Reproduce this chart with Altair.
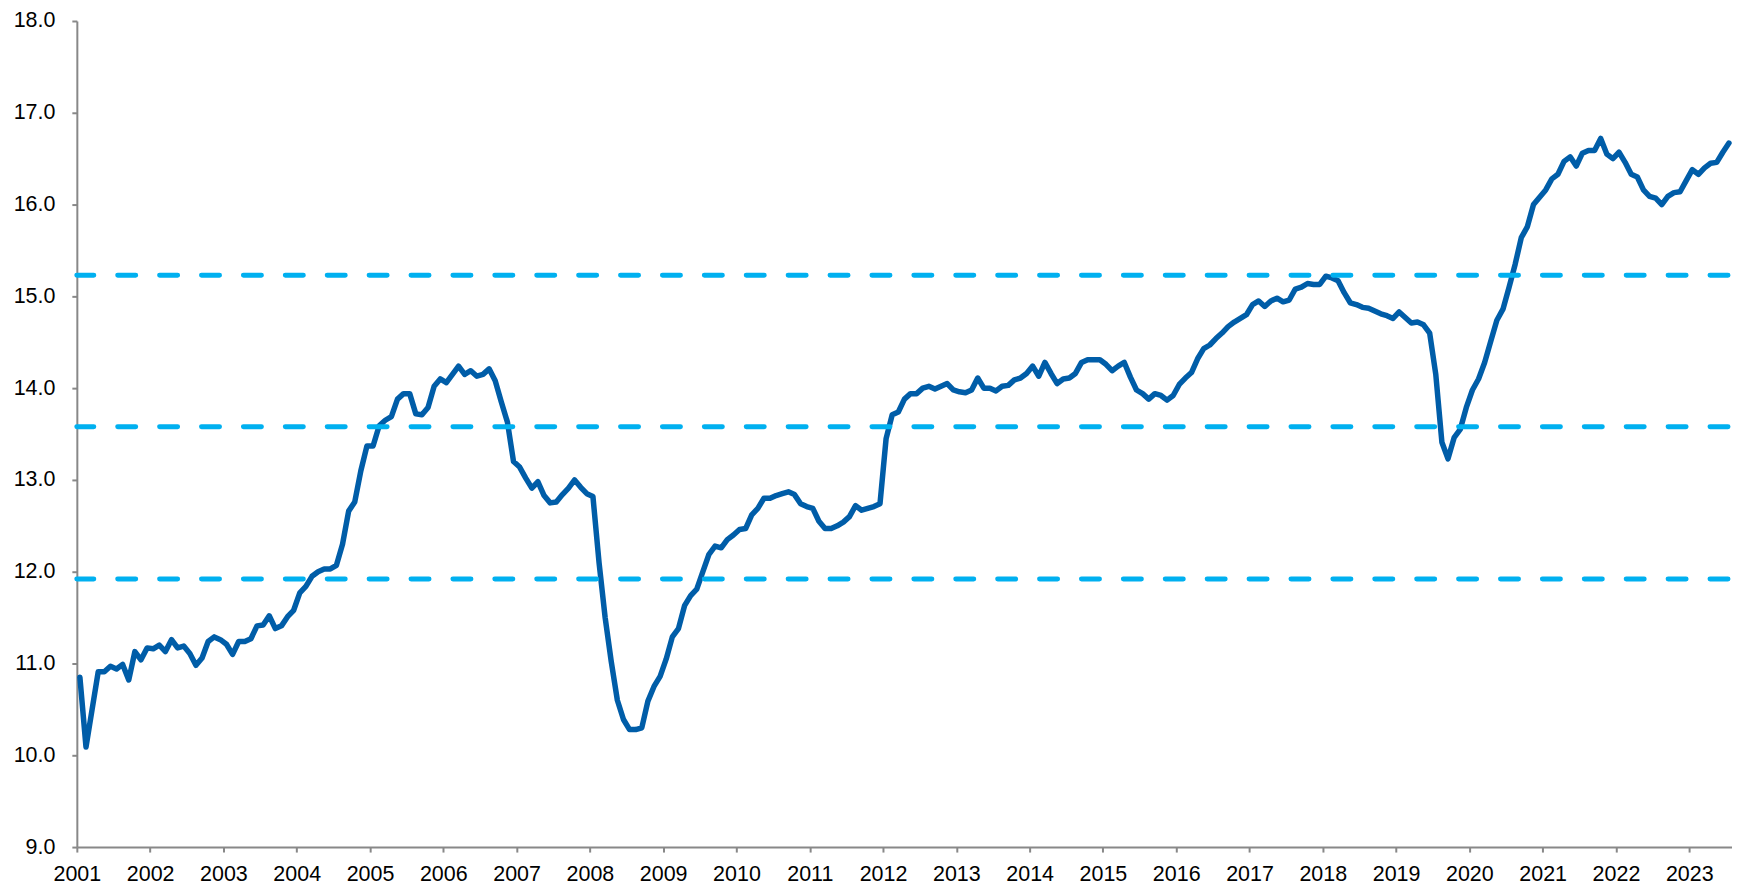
import altair as alt
import pandas as pd

# Monthly values, Jan 2001 - Jul 2023
v2001 = [10.85, 10.09, 10.50, 10.91, 10.91, 10.97, 10.94, 10.99, 10.82, 11.13, 11.04, 11.17]
v2002 = [11.16, 11.20, 11.13, 11.26, 11.17, 11.19, 11.11, 10.98, 11.06, 11.24, 11.29, 11.26]
v2003 = [11.21, 11.10, 11.24, 11.24, 11.27, 11.41, 11.42, 11.52, 11.38, 11.41, 11.51, 11.58]
v2004 = [11.77, 11.84, 11.95, 12.00, 12.03, 12.03, 12.07, 12.30, 12.66, 12.76, 13.10, 13.37]
v2005 = [13.37, 13.59, 13.65, 13.69, 13.88, 13.94, 13.94, 13.72, 13.71, 13.79, 14.02, 14.10]
v2006 = [14.06, 14.15, 14.24, 14.15, 14.19, 14.13, 14.15, 14.21, 14.08, 13.85, 13.63, 13.20]
v2007 = [13.14, 13.02, 12.91, 12.98, 12.83, 12.75, 12.76, 12.84, 12.91, 13.00, 12.92, 12.85]
v2008 = [12.82, 12.10, 11.50, 11.02, 10.60, 10.39, 10.28, 10.28, 10.30, 10.59, 10.75, 10.86]
v2009 = [11.05, 11.29, 11.38, 11.63, 11.74, 11.81, 12.00, 12.19, 12.28, 12.26, 12.35, 12.40]
v2010 = [12.46, 12.47, 12.62, 12.69, 12.80, 12.80, 12.83, 12.85, 12.87, 12.84, 12.74, 12.71]
v2011 = [12.69, 12.55, 12.47, 12.47, 12.50, 12.54, 12.60, 12.72, 12.67, 12.69, 12.71, 12.74]
v2012 = [13.45, 13.71, 13.74, 13.88, 13.94, 13.94, 14.00, 14.02, 13.99, 14.02, 14.05, 13.98]
v2013 = [13.96, 13.95, 13.98, 14.11, 14.00, 14.00, 13.97, 14.02, 14.03, 14.09, 14.11, 14.16]
v2014 = [14.24, 14.13, 14.28, 14.16, 14.05, 14.10, 14.11, 14.16, 14.28, 14.31, 14.31, 14.31]
v2015 = [14.26, 14.19, 14.24, 14.28, 14.12, 13.98, 13.94, 13.88, 13.94, 13.92, 13.87, 13.92]
v2016 = [14.04, 14.11, 14.17, 14.32, 14.43, 14.47, 14.54, 14.60, 14.67, 14.72, 14.76, 14.80]
v2017 = [14.91, 14.95, 14.89, 14.95, 14.98, 14.94, 14.96, 15.08, 15.10, 15.14, 15.13, 15.13]
v2018 = [15.22, 15.20, 15.17, 15.04, 14.93, 14.91, 14.88, 14.87, 14.84, 14.81, 14.79, 14.76]
v2019 = [14.83, 14.77, 14.71, 14.72, 14.69, 14.60, 14.15, 13.41, 13.23, 13.46, 13.55, 13.79]
v2020 = [13.98, 14.10, 14.28, 14.51, 14.74, 14.86, 15.10, 15.35, 15.64, 15.76, 16.00, 16.08]
v2021 = [16.16, 16.28, 16.33, 16.47, 16.52, 16.42, 16.56, 16.59, 16.59, 16.72, 16.55, 16.50]
v2022 = [16.57, 16.46, 16.33, 16.30, 16.16, 16.09, 16.07, 16.00, 16.09, 16.13, 16.14, 16.26]
v2023 = [16.38, 16.33, 16.40, 16.45, 16.46, 16.57, 16.67]

yearly = [v2001, v2002, v2003, v2004, v2005, v2006, v2007, v2008, v2009, v2010, v2011,
          v2012, v2013, v2014, v2015, v2016, v2017, v2018, v2019, v2020, v2021, v2022, v2023]
years = list(range(2001, 2024))

# Reference levels (dashed lines)
levels = [15.23, 13.58, 11.92]

rows = []
for yr, vals in zip(years, yearly):
    for m, v in enumerate(vals):
        rows.append({"t": yr + (m + 0.5) / 12.0, "value": v})
df = pd.DataFrame(rows)
lv = pd.DataFrame({"level": levels})

x_end = 2001 + len(df) / 12.0

x = alt.X(
    "t:Q",
    scale=alt.Scale(domain=[2001, x_end], nice=False, zero=False),
    axis=alt.Axis(
        values=years, format="d", title=None, grid=False,
        tickSize=5, labelPadding=12, labelFlush=False, labelOverlap=False,
    ),
)
y = alt.Y(
    "value:Q",
    scale=alt.Scale(domain=[9, 18], nice=False, zero=False),
    axis=alt.Axis(
        values=list(range(9, 19)), format=".1f", title=None, grid=False,
        tickSize=5, labelPadding=17,
    ),
)

line = alt.Chart(df).mark_line(
    color="#005DA8", strokeWidth=5.5, strokeJoin="round", strokeCap="round"
).encode(x=x, y=y)

rules = alt.Chart(lv).mark_rule(
    color="#00B0F0", strokeWidth=5, strokeDash=[18, 24], strokeCap="round",
    strokeDashOffset=38,
).encode(y=alt.Y("level:Q", scale=alt.Scale(domain=[9, 18], nice=False, zero=False)))

chart = alt.layer(line, rules).properties(
    width=1659, height=828,
    autosize=alt.AutoSizeParams(type="none"),
    padding={"left": 69, "top": 12, "right": 0, "bottom": 42},
).configure_view(stroke=None).configure_axis(
    domainColor="#888888", domainWidth=2, tickColor="#888888", tickWidth=2,
    labelFont="Liberation Sans", labelFontSize=21.5, labelColor="#000000",
)

chart.save("out.html", embed_options={"renderer": "svg", "actions": False})
